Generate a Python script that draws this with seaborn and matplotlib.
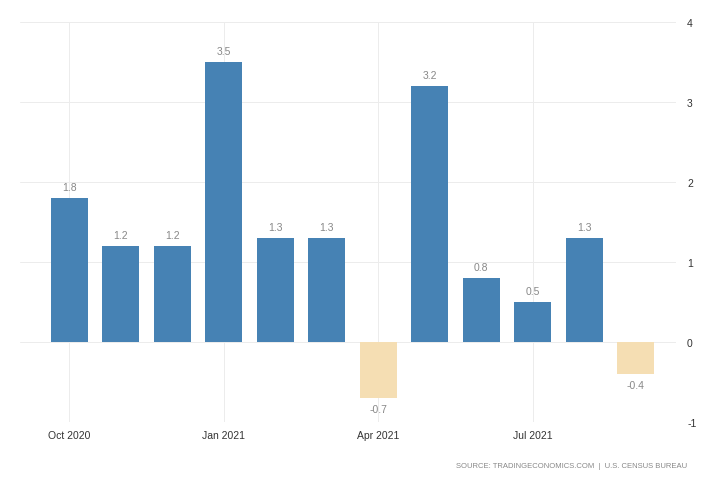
import matplotlib
matplotlib.use("Agg")
import matplotlib.pyplot as plt
import seaborn as sns
import pandas as pd

months = ["Oct 2020", "Nov 2020", "Dec 2020", "Jan 2021", "Feb 2021", "Mar 2021",
          "Apr 2021", "May 2021", "Jun 2021", "Jul 2021", "Aug 2021", "Sep 2021"]
values = [1.8, 1.2, 1.2, 3.5, 1.3, 1.3, -0.7, 3.2, 0.8, 0.5, 1.3, -0.4]
tick_labels = ["Oct 2020", "Jan 2021", "Apr 2021", "Jul 2021"]
y_ticks = [-1, 0, 1, 2, 3, 4]
source = "SOURCE: TRADINGECONOMICS.COM  |  U.S. CENSUS BUREAU"

df = pd.DataFrame({"month": months, "value": values})
df["sign"] = ["pos" if v >= 0 else "neg" for v in values]

sns.set_style("white")
plt.rcParams["font.family"] = ["Liberation Sans", "DejaVu Sans"]
plt.rcParams["axes.unicode_minus"] = False

fig = plt.figure(figsize=(7.28, 4.85), dpi=100)
ax = fig.add_axes([0.0275, 0.1278, 0.901, 0.8248])

sns.barplot(data=df, x="month", y="value", hue="sign",
            palette={"pos": "#4682B4", "neg": "#F5DEB3"},
            width=0.72, dodge=False, legend=False, ax=ax, saturation=1,
            linewidth=0)

ax.set_ylim(-1, 4)
ax.set_xlim(-0.96, 11.78)
for s in ax.spines.values():
    s.set_visible(False)

ax.set_yticks(y_ticks)
ax.yaxis.tick_right()
ax.tick_params(axis="y", length=0, labelsize=7.5, labelcolor="#333333", pad=8)
tick_pos = [months.index(t) for t in tick_labels]
ax.set_xticks(tick_pos)
ax.set_xticklabels(tick_labels)
ax.tick_params(axis="x", length=0, labelsize=7.5, labelcolor="#333333", pad=6)
ax.set_xlabel("")
ax.set_ylabel("")

ax.grid(True, color="#ececec", linewidth=0.7)
ax.set_axisbelow(True)

for i, v in enumerate(values):
    if v >= 0:
        ax.annotate(f"{v:g}", (i, v), xytext=(0, 4), textcoords="offset points",
                    ha="center", va="bottom", fontsize=7.5, color="#888888")
    else:
        ax.annotate(f"{v:g}", (i, v), xytext=(0, -4), textcoords="offset points",
                    ha="center", va="top", fontsize=7.5, color="#888888")

fig.text(0.944, 0.039, source, ha="right", va="center", fontsize=5.5, color="#888888")

fig.savefig("out.png", dpi=100)
